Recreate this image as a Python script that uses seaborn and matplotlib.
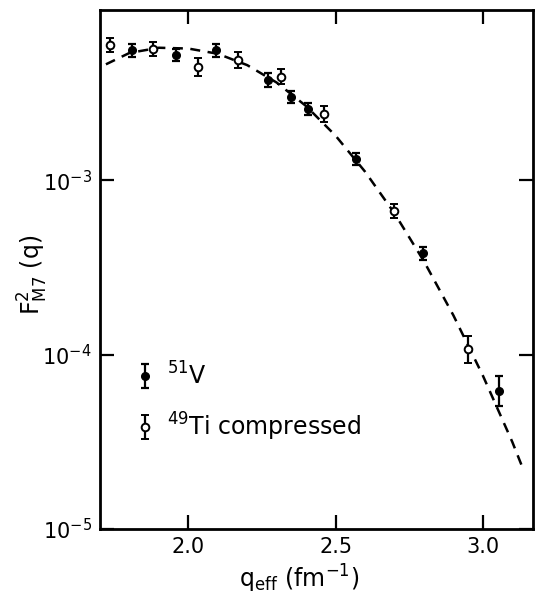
import numpy as np
import pandas as pd
import matplotlib
matplotlib.use("Agg")
import matplotlib.pyplot as plt
import seaborn as sns

# --- data ---
v_q = [1.810, 1.959, 2.095, 2.269, 2.350, 2.405, 2.568, 2.796, 3.054]
v_f = [5.55e-3, 5.20e-3, 5.55e-3, 3.75e-3, 3.00e-3, 2.56e-3, 1.32e-3, 3.80e-4, 6.2e-5]
v_err_dec = [0.035, 0.035, 0.035, 0.040, 0.035, 0.035, 0.035, 0.040, 0.086]

ti_q = [1.735, 1.881, 2.031, 2.167, 2.316, 2.459, 2.697, 2.949]
ti_f = [6.0e-3, 5.66e-3, 4.46e-3, 4.90e-3, 3.91e-3, 2.39e-3, 6.7e-4, 1.07e-4]
ti_err_dec = [0.040, 0.040, 0.052, 0.046, 0.043, 0.046, 0.040, 0.075]

curve_q = [1.72, 1.80, 1.90, 2.00, 2.10, 2.20, 2.30, 2.40, 2.50, 2.60,
           2.70, 2.80, 2.90, 3.00, 3.10, 3.14]
curve_f = [4.62e-3, 5.37e-3, 5.75e-3, 5.69e-3, 5.31e-3, 4.57e-3, 3.63e-3,
           2.66e-3, 1.80e-3, 1.12e-3, 6.46e-4, 3.43e-4, 1.68e-4, 7.59e-5,
           3.16e-5, 2.14e-5]

x_ticks = [2.0, 2.5, 3.0]
x_ticklabels = ["2.0", "2.5", "3.0"]
y_ticks = [1e-5, 1e-4, 1e-3]
y_ticklabels = [r"10$^{-5}$", r"10$^{-4}$", r"10$^{-3}$"]

sns.set_style("ticks")
plt.rcParams["font.family"] = ["DejaVu Sans"]
plt.rcParams["mathtext.default"] = "regular"
plt.rcParams["text.color"] = "black"
plt.rcParams["axes.labelcolor"] = "black"
plt.rcParams["xtick.color"] = "black"
plt.rcParams["ytick.color"] = "black"

fig = plt.figure(figsize=(5.35, 6.08), dpi=100)
ax = fig.add_axes([0.187, 0.130, 0.809, 0.854])

curve = pd.DataFrame({"q": curve_q, "f": curve_f})
sns.lineplot(data=curve, x="q", y="f", ax=ax, color="black",
             linestyle=(0, (4, 3)), linewidth=1.8, zorder=1)


def yerr_of(vals, dec):
    vals = np.asarray(vals)
    dec = np.asarray(dec)
    lo = vals - vals / 10 ** dec
    hi = vals * 10 ** dec - vals
    return np.vstack([lo, hi])


ax.errorbar(v_q, v_f, yerr=yerr_of(v_f, v_err_dec), fmt="o", ms=5.5,
            mfc="black", mec="black", ecolor="black", elinewidth=1.6,
            capsize=3, capthick=1.6, label=r"$^{51}$V", zorder=3)
ax.errorbar(ti_q, ti_f, yerr=yerr_of(ti_f, ti_err_dec), fmt="o", ms=5.5,
            mfc="white", mec="black", mew=1.4, ecolor="black", elinewidth=1.6,
            capsize=3, capthick=1.6, label=r"$^{49}$Ti compressed", zorder=3)

ax.set_yscale("log")
ax.set_xlim(1.70, 3.17)
ax.set_ylim(1e-5, 9.5e-3)
ax.set_xticks(x_ticks)
ax.set_xticklabels(x_ticklabels)
ax.set_yticks(y_ticks)
ax.set_yticklabels(y_ticklabels)
ax.minorticks_off()
ax.tick_params(which="major", direction="in", length=10, width=1.6,
               top=True, right=True, labelsize=15, colors="black", pad=6)

for s in ax.spines.values():
    s.set_linewidth(2.0)
    s.set_color("black")
    s.set_visible(True)

ax.set_xlabel(r"q$_{eff}$ (fm$^{-1}$)", fontsize=17)
ax.set_ylabel(r"F$^{2}_{M7}$ (q)", fontsize=17)
ax.xaxis.set_label_coords(0.46, -0.065)
ax.yaxis.set_label_coords(-0.115, 0.49)

leg = ax.legend(loc="upper left", bbox_to_anchor=(0.03, 0.362), frameon=False,
                fontsize=17, labelspacing=0.9, handlelength=0.9,
                handletextpad=0.5)

fig.savefig("out.png", dpi=100)
